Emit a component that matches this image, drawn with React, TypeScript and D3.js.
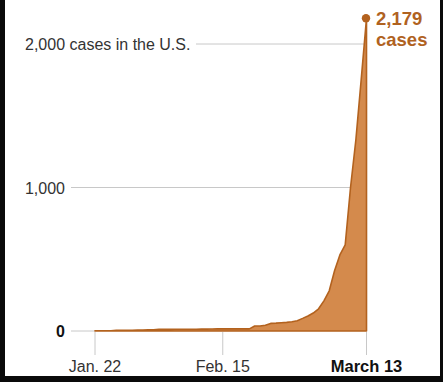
import React from "react";
import * as d3 from "d3";

const dates: string[] = [
  "2020-01-22","2020-01-23","2020-01-24","2020-01-25","2020-01-26","2020-01-27","2020-01-28","2020-01-29","2020-01-30","2020-01-31",
  "2020-02-01","2020-02-02","2020-02-03","2020-02-04","2020-02-05","2020-02-06","2020-02-07","2020-02-08","2020-02-09","2020-02-10",
  "2020-02-11","2020-02-12","2020-02-13","2020-02-14","2020-02-15","2020-02-16","2020-02-17","2020-02-18","2020-02-19","2020-02-20",
  "2020-02-21","2020-02-22","2020-02-23","2020-02-24","2020-02-25","2020-02-26","2020-02-27","2020-02-28","2020-02-29",
  "2020-03-01","2020-03-02","2020-03-03","2020-03-04","2020-03-05","2020-03-06","2020-03-07","2020-03-08","2020-03-09","2020-03-10",
  "2020-03-11","2020-03-12","2020-03-13",
];
const cases: number[] = [
  1,1,2,2,5,5,5,5,6,7,
  8,8,11,11,11,12,12,12,12,12,
  13,13,14,15,15,15,15,15,15,15,
  35,35,40,53,55,58,60,65,72,
  88,105,125,155,210,280,420,530,600,1000,
  1330,1750,2179,
];
const yTicks: number[] = [0, 1000, 2000];
const yTickLabels: string[] = ["0", "1,000", "2,000 cases in the U.S."];
const xTickDates: string[] = ["2020-01-22", "2020-02-15", "2020-03-13"];
const xTickLabels: string[] = ["Jan. 22", "Feb. 15", "March 13"];
const lastLabel: string[] = ["2,179", "cases"];

const W = 443;
const H = 382;
const FONT = "'Liberation Sans', Arial, sans-serif";
const FILL = "#d48a4c";
const STROKE = "#b3621e";
const ORANGE_TEXT = "#b0621f";

export default function App() {
  const parse = d3.timeParse("%Y-%m-%d");
  const data = dates.map((d, i) => ({ date: parse(d) as Date, v: cases[i] }));
  const x = d3
    .scaleTime()
    .domain([data[0].date, data[data.length - 1].date])
    .range([95, 366.5]);
  const y = d3.scaleLinear().domain([0, 2000]).range([331, 44]);

  const area = d3
    .area<{ date: Date; v: number }>()
    .x((d) => x(d.date))
    .y0(y(0))
    .y1((d) => y(d.v));
  const areaPath = area(data) + "Z";
  const last = data[data.length - 1];

  return (
    <div style={{ position: "fixed", left: 0, top: 0, width: W, height: H }}>
      <svg width={W} height={H} style={{ display: "block" }}>
        <rect x={0} y={0} width={W} height={H} fill="#0a0a0a" />
        <rect x={5} y={0} width={435} height={376} fill="#ffffff" />
        {/* gridlines */}
        <line x1={71} x2={x(data[0].date)} y1={y(0)} y2={y(0)} stroke="#c8c8c8" strokeWidth={1} />
        <line x1={71} x2={366} y1={y(1000)} y2={y(1000)} stroke="#c8c8c8" strokeWidth={1} />
        <line x1={196} x2={364} y1={y(2000)} y2={y(2000)} stroke="#c8c8c8" strokeWidth={1} />
        {/* x ticks */}
        {xTickDates.map((d, i) => {
          const xx = x(parse(d) as Date);
          return (
            <g key={d}>
              <line x1={xx} x2={xx} y1={332} y2={355} stroke="#c8c8c8" strokeWidth={1} />
              <text
                x={xx}
                y={372}
                textAnchor="middle"
                fontFamily={FONT}
                fontSize={i === 2 ? 16.5 : 16}
                fontWeight={i === 2 ? "bold" : "normal"}
                fill={i === 2 ? "#111" : "#333"}
              >
                {xTickLabels[i]}
              </text>
            </g>
          );
        })}
        {/* area */}
        <path d={areaPath} fill={FILL} stroke={STROKE} strokeWidth={1.6} strokeLinejoin="round" />
        {/* y labels */}
        {yTicks.map((t, i) => (
          <text
            key={t}
            x={i === 2 ? 25 : 65}
            y={y(t) + 6}
            textAnchor={i === 2 ? "start" : "end"}
            fontFamily={FONT}
            fontSize={16}
            fontWeight={i === 0 ? "bold" : "normal"}
            fill={i === 0 ? "#111" : "#333"}
          >
            {yTickLabels[i]}
          </text>
        ))}
        {/* last point */}
        <circle cx={x(last.date) - 0.5} cy={y(last.v)} r={4.2} fill={STROKE} />
        <text x={376} y={25} fontFamily={FONT} fontSize={18.5} fontWeight="bold" fill={ORANGE_TEXT}>
          {lastLabel[0]}
        </text>
        <text x={376} y={46} fontFamily={FONT} fontSize={18.5} fontWeight="bold" fill={ORANGE_TEXT}>
          {lastLabel[1]}
        </text>
      </svg>
    </div>
  );
}
